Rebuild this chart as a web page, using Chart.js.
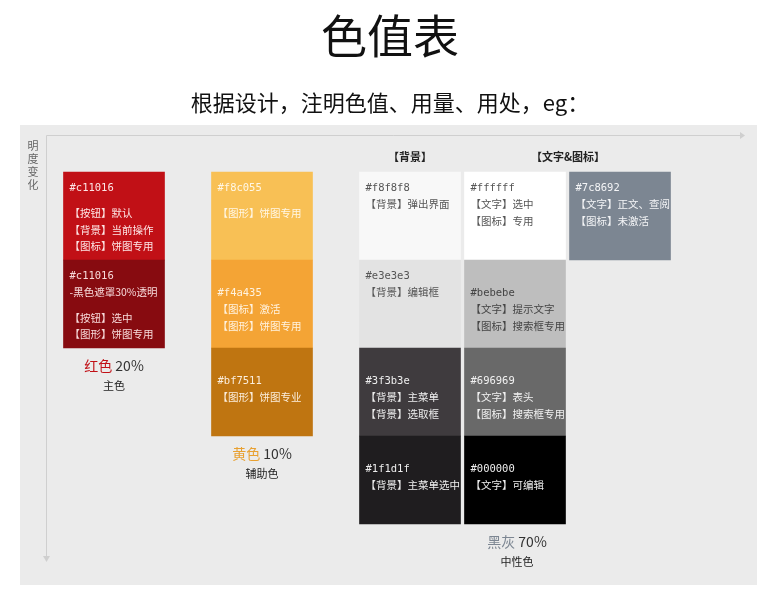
<!DOCTYPE html>
<html>
<head>
<meta charset="utf-8">
<script src="https://cdn.jsdelivr.net/npm/chart.js@4/dist/chart.umd.min.js"></script>
<style>
  html, body { margin: 0; padding: 0; background: #fff; }
  #wrap { position: relative; width: 780px; height: 590px; }
</style>
</head>
<body>
<div id="wrap"><canvas id="palette" width="780" height="590"></canvas></div>
<script>
// swatch columns (center on the horizontal axis) and brightness steps (rows, top to bottom)
const columns = [114, 262, 410, 515, 620];
const rowEdges = [172, 260, 348, 436, 524];

// one entry per swatch: column index, row index, fill colour
const swatchColumn = [0, 0, 1, 1, 1, 2, 2, 2, 2, 3, 3, 3, 3, 4];
const swatchRow    = [0, 1, 0, 1, 2, 0, 1, 2, 3, 0, 1, 2, 3, 0];
const swatchColors = ["#c11016", "#870b10", "#f8c055", "#f4a435", "#bf7511",
  "#f8f8f8", "#e3e3e3", "#3f3b3e", "#1f1d1f",
  "#ffffff", "#bebebe", "#696969", "#000000", "#7c8692"];
const swatchText = [
  ["#c11016", "", "【按钮】默认", "【背景】当前操作", "【图标】饼图专用"],
  ["#c11016", "-黑色遮罩30%透明", "", "【按钮】选中", "【图形】饼图专用"],
  ["#f8c055", "", "【图形】饼图专用"],
  ["", "#f4a435", "【图标】激活", "【图形】饼图专用"],
  ["", "#bf7511", "【图形】饼图专业"],
  ["#f8f8f8", "【背景】弹出界面"],
  ["#e3e3e3", "【背景】编辑框"],
  ["", "#3f3b3e", "【背景】主菜单", "【背景】选取框"],
  ["", "#1f1d1f", "【背景】主菜单选中"],
  ["#ffffff", "【文字】选中", "【图标】专用"],
  ["", "#bebebe", "【文字】提示文字", "【图标】搜索框专用"],
  ["", "#696969", "【文字】表头", "【图标】搜索框专用"],
  ["", "#000000", "【文字】可编辑"],
  ["#7c8692", "【文字】正文、查阅", "【图标】未激活"]
];
const swatchTextColors = ["#fde6e6", "#f7dada", "#fff7e6", "#fff3e0", "#fbeedd",
  "#555555", "#555555", "#eeeeee", "#eeeeee",
  "#555555", "#444444", "#f2f2f2", "#eeeeee", "#f4f5f7"];

// group captions
const groupNames   = ["红色", "黄色", "黑灰"];
const groupShares  = ["20%", "10%", "70%"];
const groupRoles   = ["主色", "辅助色", "中性色"];
const groupColors  = ["#c11016", "#e8a030", "#7c8692"];
const groupCenters = [114, 262, 517];
const groupLastRow = [1, 2, 3];

const data = {
  datasets: [{
    data: swatchColumn.map((c, i) => ({ x: columns[c], y: [rowEdges[swatchRow[i]], rowEdges[swatchRow[i] + 1]] })),
    backgroundColor: swatchColors,
    borderWidth: 0,
    barThickness: 101,
  }]
};

const decorations = {
  id: "decorations",
  beforeDatasetsDraw(chart) {
    const ctx = chart.ctx;
    ctx.save();
    ctx.fillStyle = "#ebebeb";
    ctx.fillRect(20, 125, 737, 460);
    ctx.strokeStyle = "#cfcfcf";
    ctx.fillStyle = "#cfcfcf";
    ctx.lineWidth = 1;
    ctx.beginPath();
    ctx.moveTo(46.5, 560); ctx.lineTo(46.5, 135.5); ctx.lineTo(740, 135.5);
    ctx.stroke();
    ctx.beginPath();
    ctx.moveTo(740, 132); ctx.lineTo(745, 135.5); ctx.lineTo(740, 139); ctx.fill();
    ctx.beginPath();
    ctx.moveTo(43, 556); ctx.lineTo(46.5, 562); ctx.lineTo(50, 556); ctx.fill();
    ctx.restore();
  },
  afterDatasetsDraw(chart) {
    const ctx = chart.ctx;
    const meta = chart.getDatasetMeta(0);
    const ys = chart.scales.y;
    ctx.save();
    ctx.textBaseline = "middle";
    ctx.fillStyle = "#111";
    ctx.textAlign = "center";
    ctx.font = "46px 'Noto Sans CJK SC'";
    ctx.fillText("色值表", 390, 36);
    ctx.font = "22px 'Noto Sans CJK SC'";
    ctx.fillText("根据设计，注明色值、用量、用处，eg：", 390, 103);
    ctx.font = "bold 11px 'Noto Sans CJK SC'";
    ctx.fillStyle = "#222";
    ctx.fillText("【背景】", 410, 157);
    ctx.fillText("【文字&图标】", 568, 157);
    ctx.font = "11px 'Noto Sans CJK SC'";
    ctx.fillStyle = "#666";
    ["明", "度", "变", "化"].forEach((ch, i) => ctx.fillText(ch, 33, 146 + i * 13));

    ctx.textAlign = "left";
    meta.data.forEach((bar, i) => {
      const left = bar.x - 101 / 2 + 6;
      let y = Math.min(bar.y, bar.base) + 16;
      ctx.fillStyle = swatchTextColors[i];
      swatchText[i].forEach((line, j) => {
        if (line === "") { y += j === 0 ? 17 : 9; return; }
        ctx.font = line.startsWith("#") ? "10.5px 'DejaVu Sans Mono'" : "10.5px 'Noto Sans CJK SC'";
        ctx.fillText(line, left, y);
        y += 16.5;
      });
    });

    ctx.textAlign = "center";
    groupNames.forEach((name, g) => {
      const y = ys.getPixelForValue(rowEdges[groupLastRow[g] + 1]);
      ctx.font = "14px 'Noto Sans CJK SC'";
      const w1 = ctx.measureText(name).width;
      const w2 = ctx.measureText(" " + groupShares[g]).width;
      const x0 = groupCenters[g] - (w1 + w2) / 2;
      ctx.textAlign = "left";
      ctx.fillStyle = groupColors[g];
      ctx.fillText(name, x0, y + 18);
      ctx.fillStyle = "#333";
      ctx.fillText(" " + groupShares[g], x0 + w1, y + 18);
      ctx.textAlign = "center";
      ctx.font = "11px 'Noto Sans CJK SC'";
      ctx.fillStyle = "#222";
      ctx.fillText(groupRoles[g], groupCenters[g], y + 38);
    });
    ctx.restore();
  }
};

new Chart(document.getElementById("palette"), {
  type: "bar",
  data: data,
  options: {
    responsive: false,
    animation: false,
    layout: { padding: 0 },
    plugins: { legend: { display: false }, tooltip: { enabled: false } },
    scales: {
      x: { type: "linear", min: 0, max: 780, offset: false, display: false },
      y: { min: 0, max: 590, reverse: true, display: false }
    }
  },
  plugins: [decorations]
});
</script>
</body>
</html>
